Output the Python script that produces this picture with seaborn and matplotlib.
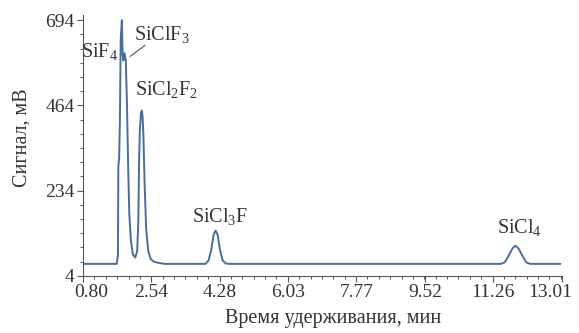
import matplotlib
matplotlib.use('Agg')
import matplotlib.pyplot as plt
from matplotlib.ticker import AutoMinorLocator
from matplotlib.transforms import ScaledTranslation
import seaborn as sns
import pandas as pd

# chromatogram trace (time, min / signal, mV)
time = [0.80, 1.66, 1.69, 1.70, 1.72, 1.74, 1.76, 1.79, 1.81, 1.83, 1.86, 1.89,
        1.92, 1.95, 1.98, 2.02, 2.07, 2.13, 2.18, 2.21, 2.23, 2.25, 2.28, 2.30,
        2.32, 2.34, 2.37, 2.41, 2.46, 2.52, 2.60, 2.75, 2.90,
        3.92, 4.00, 4.07, 4.13, 4.18, 4.23, 4.29, 4.36, 4.44, 4.52,
        11.45, 11.55, 11.65, 11.75, 11.82, 11.90, 12.00, 12.10, 12.20, 12.97]
signal = [36, 36, 60, 300, 320, 420, 640, 694, 600, 585, 605, 585,
          470, 300, 170, 100, 62, 53, 70, 150, 320, 400, 445, 450,
          430, 380, 250, 130, 72, 50, 42, 38, 36,
          36, 45, 75, 115, 126, 115, 75, 45, 37, 36,
          36, 40, 58, 78, 85, 78, 58, 40, 36, 36]

xticks = [0.80, 2.54, 4.28, 6.03, 7.77, 9.52, 11.26, 13.01]
yticks = [4, 234, 464, 694]

peaks = ['SiF$_{\\mathregular{4}}$', 'SiClF$_{\\mathregular{3}}$',
         'SiCl$_{\\mathregular{2}}$F$_{\\mathregular{2}}$',
         'SiCl$_{\\mathregular{3}}$F', 'SiCl$_{\\mathregular{4}}$']
peak_t = [1.23, 2.80, 2.94, 4.30, 11.92]
peak_v = [607, 653, 505, 161, 131]

sns.set_theme(style='ticks')
plt.rcParams['font.family'] = ['Liberation Serif', 'DejaVu Serif']
plt.rcParams['mathtext.fontset'] = 'custom'
plt.rcParams['mathtext.rm'] = 'Liberation Serif'

df = pd.DataFrame({'t': time, 'v': signal})

fig = plt.figure(figsize=(5.79, 3.33), dpi=100)
ax = fig.add_axes([0.1434, 0.172, 0.8272, 0.783])
sns.lineplot(data=df, x='t', y='v', ax=ax, color='#4a6d9c', linewidth=1.4,
             estimator=None, sort=False)

ax.set_xlim(0.80, 13.01)
ax.set_ylim(4, 708)
ax.set_xticks(xticks)
ax.set_xticklabels([f'{x:.2f}' for x in xticks])
ax.set_yticks(yticks)
ax.xaxis.set_minor_locator(AutoMinorLocator(6))
ax.yaxis.set_minor_locator(AutoMinorLocator(6))
ax.tick_params(which='major', length=4, width=0.8, color='#555555',
               labelsize=14, labelcolor='#333333', pad=2)
ax.tick_params(which='minor', length=2.5, width=0.7, color='#555555')
for s in ['top', 'right']:
    ax.spines[s].set_visible(False)
for s in ['left', 'bottom']:
    ax.spines[s].set_color('#555555')
    ax.spines[s].set_linewidth(0.8)

# end labels sit inward from their ticks
labels = ax.get_xticklabels()
labels[0].set_transform(labels[0].get_transform() + ScaledTranslation(0.08, 0, fig.dpi_scale_trans))
labels[-1].set_transform(labels[-1].get_transform() + ScaledTranslation(-0.12, 0, fig.dpi_scale_trans))

ax.set_xlabel('Время удерживания, мин', fontsize=14.5, color='#333333')
ax.set_ylabel('Сигнал, мВ', fontsize=14.5, color='#333333')
ax.xaxis.label.set_va('center')
ax.yaxis.label.set_va('center')
ax.xaxis.set_label_coords(0.522, -0.165)
ax.yaxis.set_label_coords(-0.127, 0.53)

for name, t, v in zip(peaks, peak_t, peak_v):
    ax.text(t, v, name, fontsize=14.5, color='#333333', ha='center', va='center')
ax.plot([2.00, 2.38], [596, 626], color='#555555', linewidth=0.8)

fig.savefig('out.png', dpi=100)
